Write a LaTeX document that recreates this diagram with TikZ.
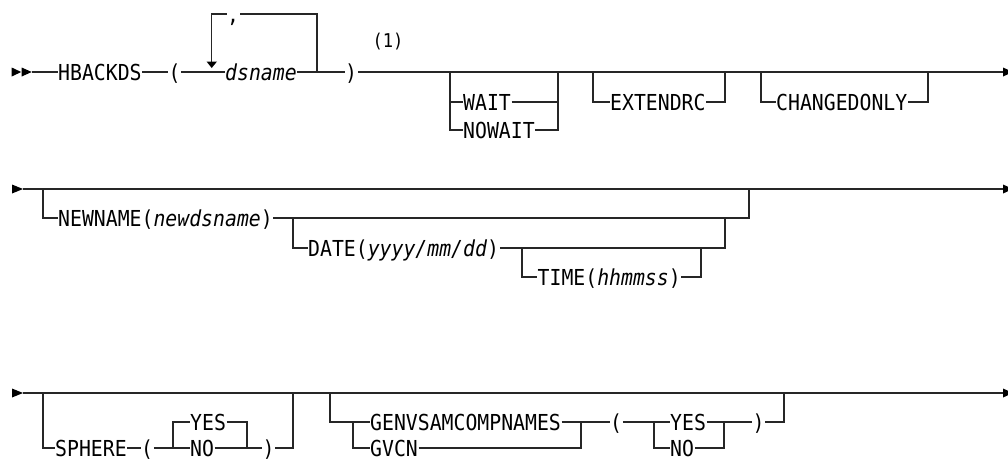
\documentclass[tikz,border=0pt]{standalone}
\usepackage{fontspec}
\newfontfamily\rrfam[FakeStretch=0.9]{DejaVu Sans Mono}
\newcommand\rrfont{\fontsize{22}{25}\selectfont\rrfam}
\newcommand\rrsmall{\fontsize{19}{21}\selectfont\rrfam}
\begin{document}
\begin{tikzpicture}[x=1pt,y=-1pt,
  kw/.style={inner xsep=0.5pt, inner ysep=0pt, text height=16pt, text depth=0pt, anchor=west, font=\rrfont, text=black},
  rr/.style={line width=1.2pt, black!85},
  tip/.style={fill=black, draw=none}]
\useasboundingbox (0,0) rectangle (1008,461);

% ---------------- Row 1 ----------------
\fill[tip] (11.7,67.5) -- (11.7,76.5) -- (21.2,72) -- cycle;
\fill[tip] (21.7,67.5) -- (21.7,76.5) -- (31.7,72) -- cycle;
\coordinate (s1) at (31.7,72);
\coordinate (e1) at (1003,72);
\fill[tip] (1003,67.5) -- (1003,76.5) -- (1008,74.25) -- (1008,69.75) -- cycle;

\node[kw] (hb) at (57.5,72) {HBACKDS};
\node[kw] (lp) at (168,72) {(};
\node[kw] (ds) at (224.5,72) {\itshape dsname};
\node[kw] (rp) at (344.5,72) {)};
\node[kw] (cm) at (226.5,14) {,};
\node[font=\rrsmall, inner sep=0pt] (note) at (388,42) {(1)};

\draw[rr] (s1) -- (hb.west);
\draw[rr] (hb.east) -- (lp.west);
\draw[rr] (lp.east) -- (ds.west);
\draw[rr] (ds.east) -- (rp.west);
\draw[rr] (rp.east) -- (e1);

% repeat loop
\coordinate (lpR) at (317,72);
\coordinate (lpL) at (211.7,62);
\draw[rr] (lpR) |- (cm.east);
\draw[rr] (cm.west) -| (lpL);
\fill[tip] (206.5,61.5) -- (217,61.5) -- (211.7,68) -- cycle;

% WAIT / NOWAIT
\node[kw] (wait) at (462.5,102) {WAIT};
\node[kw] (nowait) at (462.5,130) {NOWAIT};
\coordinate (w1) at (450,72);
\coordinate (w2) at (558,72);
\draw[rr] (w1) |- (nowait.west);
\draw[rr] (w1) |- (wait.west);
\draw[rr] (wait.east) -| (w2);
\draw[rr] (nowait.east) -| (w2);

% EXTENDRC
\node[kw] (ext) at (609.5,102) {EXTENDRC};
\coordinate (x1) at (593,72);
\coordinate (x2) at (725,72);
\draw[rr] (x1) |- (ext.west);
\draw[rr] (ext.east) -| (x2);

% CHANGEDONLY
\node[kw] (chg) at (775.5,102) {CHANGEDONLY};
\coordinate (c1) at (761,72);
\coordinate (c2) at (928,72);
\draw[rr] (c1) |- (chg.west);
\draw[rr] (chg.east) -| (c2);

% ---------------- Row 2 ----------------
\fill[tip] (12,184.5) -- (12,193.5) -- (23,189) -- cycle;
\coordinate (s2) at (23,189);
\coordinate (e2) at (1003,189);
\fill[tip] (1003,184.5) -- (1003,193.5) -- (1008,191.25) -- (1008,186.75) -- cycle;
\draw[rr] (s2) -- (e2);

\node[kw] (nn) at (57.5,218) {NEWNAME(\textit{newdsname})};
\node[kw] (date) at (307.5,248) {DATE(\textit{yyyy/mm/dd})};
\node[kw] (time) at (537,277) {TIME(\textit{hhmmss})};

\coordinate (n1) at (43,189);
\coordinate (n2) at (749,189);
\draw[rr] (n1) |- (nn.west);
\draw[rr] (nn.east) -| (n2);

\coordinate (d1) at (293,218);
\coordinate (d2) at (725,218);
\draw[rr] (d1) |- (date.west);
\draw[rr] (date.east) -| (d2);

\coordinate (t1) at (522,248);
\coordinate (t2) at (701,248);
\draw[rr] (t1) |- (time.west);
\draw[rr] (time.east) -| (t2);

% ---------------- Row 3 ----------------
\fill[tip] (12,388.5) -- (12,397.5) -- (23,393) -- cycle;
\coordinate (s3) at (23,393);
\coordinate (e3) at (1003,393);
\fill[tip] (1003,388.5) -- (1003,397.5) -- (1008,395.25) -- (1008,390.75) -- cycle;
\draw[rr] (s3) -- (e3);

% SPHERE
\node[kw] (sph) at (54.5,448) {SPHERE};
\node[kw] (lp2) at (140.5,448) {(};
\node[kw] (yes1) at (189.5,422) {YES};
\node[kw] (no1) at (189.5,448) {NO};
\node[kw] (rp2) at (262,448) {)};
\coordinate (p1) at (43,393);
\coordinate (p2) at (293,393);
\coordinate (y1) at (173,448);
\coordinate (y2) at (247,448);
\draw[rr] (p1) |- (sph.west);
\draw[rr] (sph.east) -- (lp2.west);
\draw[rr] (lp2.east) -- (no1.west);
\draw[rr] (y1) |- (yes1.west);
\draw[rr] (yes1.east) -| (y2);
\draw[rr] (no1.east) -- (rp2.west);
\draw[rr] (rp2.east) -| (p2);

% GENVSAMCOMPNAMES
\node[kw] (gen) at (369.5,422) {GENVSAMCOMPNAMES};
\node[kw] (gvcn) at (369.5,448) {GVCN};
\node[kw] (lp3) at (609.5,422) {(};
\node[kw] (yes2) at (669.5,422) {YES};
\node[kw] (no2) at (669.5,448) {NO};
\node[kw] (rp3) at (752,422) {)};
\coordinate (g1) at (330,393);
\coordinate (g2) at (784,393);
\coordinate (g3) at (353,422);
\coordinate (g4) at (581,422);
\coordinate (h1) at (654,422);
\coordinate (h2) at (724,422);
\draw[rr] (g1) |- (gen.west);
\draw[rr] (g3) |- (gvcn.west);
\draw[rr] (gvcn.east) -| (g4);
\draw[rr] (gen.east) -- (lp3.west);
\draw[rr] (lp3.east) -- (yes2.west);
\draw[rr] (h1) |- (no2.west);
\draw[rr] (no2.east) -| (h2);
\draw[rr] (yes2.east) -- (rp3.west);
\draw[rr] (rp3.east) -| (g2);
\end{tikzpicture}
\end{document}
